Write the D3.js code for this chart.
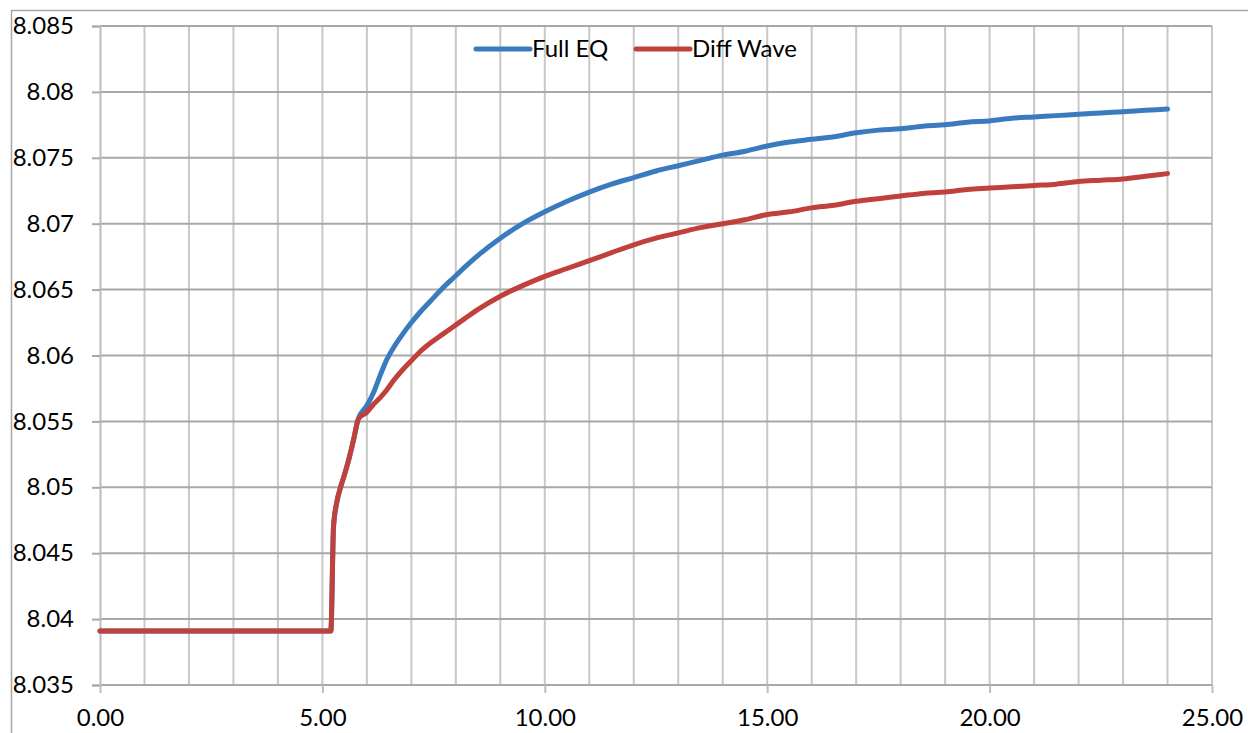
<!DOCTYPE html>
<html>
<head>
<meta charset="utf-8">
<script src="https://cdn.jsdelivr.net/npm/d3@7"></script>
<style>
  html, body { margin: 0; padding: 0; background: #fff; }
  svg { display: block; }
  text { font-family: Lato, "Noto Sans", sans-serif; fill: #000; }
</style>
</head>
<body>
<svg id="chart" width="1248" height="733"></svg>
<script>
// ---- data ----
const time = [0, 1, 2, 3, 4, 5, 5.19, 5.25, 5.32, 5.40, 5.50, 5.60, 5.70, 5.81,
  6.0, 6.15, 6.3, 6.45, 6.6, 6.8, 7.0, 7.2, 7.45, 7.7, 7.95, 8.2, 8.5, 9.0, 9.5,
  10, 10.5, 11, 11.5, 12, 12.5, 13, 13.5, 14, 14.5, 15, 15.5, 16, 16.5, 17, 17.5,
  18, 18.5, 19, 19.5, 20, 20.5, 21, 21.5, 22, 22.5, 23, 23.5, 24];
const fullEQ = [8.0391, 8.0391, 8.0391, 8.0391, 8.0391, 8.0391, 8.0391, 8.0470, 8.0488, 8.0499, 8.0510, 8.0522, 8.0536, 8.0552,
  8.0562, 8.0572, 8.0585, 8.0597, 8.0606, 8.0616, 8.0625, 8.0633, 8.0642, 8.0651, 8.0659, 8.0667, 8.0676, 8.0689, 8.0700,
  8.0709, 8.0717, 8.0724, 8.0730, 8.0735, 8.0740, 8.0744, 8.0748, 8.0752, 8.0755, 8.0759, 8.0762, 8.0764, 8.0766, 8.0769, 8.0771,
  8.0772, 8.0774, 8.0775, 8.0777, 8.0778, 8.0780, 8.0781, 8.0782, 8.0783, 8.0784, 8.0785, 8.0786, 8.0787];
const diffWave = [8.0391, 8.0391, 8.0391, 8.0391, 8.0391, 8.0391, 8.0391, 8.0470, 8.0488, 8.0499, 8.0510, 8.0522, 8.0536, 8.0552,
  8.0557, 8.0563, 8.0568, 8.0574, 8.0581, 8.0589, 8.0596, 8.0603, 8.0610, 8.0616, 8.0622, 8.0628, 8.0635, 8.0645, 8.0653,
  8.0660, 8.0666, 8.0672, 8.0678, 8.0684, 8.0689, 8.0693, 8.0697, 8.0700, 8.0703, 8.0707, 8.0709, 8.0712, 8.0714, 8.0717, 8.0719,
  8.0721, 8.0723, 8.0724, 8.0726, 8.0727, 8.0728, 8.0729, 8.0730, 8.0732, 8.0733, 8.0734, 8.0736, 8.0738];
const seriesNames = ["Full EQ", "Diff Wave"];
const seriesColors = ["#3a7bc0", "#c0403c"];
const xTicks = [0, 5, 10, 15, 20, 25];
const xMinor = d3.range(0, 26, 1);
const yTicks = [8.035, 8.04, 8.045, 8.05, 8.055, 8.06, 8.065, 8.07, 8.075, 8.08, 8.085];

// ---- layout ----
const svg = d3.select("#chart");
const L = 100, R = 1212, T = 26, B = 685;
const x = d3.scaleLinear().domain([0, 25]).range([L, R]);
const y = d3.scaleLinear().domain([8.035, 8.085]).range([B, T]);
const FS = 24;

// chart area border (cropped: only top and left visible)
svg.append("path").attr("d", `M11.5,733 L11.5,10.5 L1248,10.5`)
  .attr("fill", "none").attr("stroke", "#a6a6a6").attr("stroke-width", 1.5);

// vertical gridlines
svg.append("g").selectAll("line").data(xMinor.filter(d => d > 0)).join("line")
  .attr("x1", d => x(d)).attr("x2", d => x(d)).attr("y1", T).attr("y2", B)
  .attr("stroke", "#c8c8c8").attr("stroke-width", 2);

// horizontal gridlines
svg.append("g").selectAll("line").data(yTicks).join("line")
  .attr("x1", L).attr("x2", R).attr("y1", d => y(d)).attr("y2", d => y(d))
  .attr("stroke", "#a8a8a8").attr("stroke-width", 2);

// y axis
const yAxis = d3.axisLeft(y).tickValues(yTicks).tickSize(8).tickPadding(18)
  .tickFormat(d => String(+d.toFixed(3)));
const gy = svg.append("g").attr("transform", `translate(${L},0)`).call(yAxis);
gy.select(".domain").attr("stroke", "#bcbcbc").attr("stroke-width", 2);
gy.selectAll(".tick line").attr("stroke", "#a8a8a8").attr("stroke-width", 2);
gy.selectAll(".tick text").attr("font-size", FS).attr("font-family", "Lato, 'Noto Sans', sans-serif").attr("fill", "#000");

// x axis
const xAxis = d3.axisBottom(x).tickValues(xTicks).tickSize(8).tickPadding(16)
  .tickFormat(d3.format(".2f"));
const gx = svg.append("g").attr("transform", `translate(0,${B})`).call(xAxis);
gx.select(".domain").remove();
gx.selectAll(".tick line").attr("stroke", "#bcbcbc").attr("stroke-width", 2);
gx.selectAll(".tick text").attr("font-size", FS).attr("font-family", "Lato, 'Noto Sans', sans-serif").attr("fill", "#000");

// series
const data = [fullEQ, diffWave];
const line = d3.line().x((d, i) => x(time[i])).y(d => y(d)).curve(d3.curveMonotoneX);
svg.append("g").selectAll("path").data(data).join("path")
  .attr("d", d => line(d)).attr("fill", "none")
  .attr("stroke", (d, i) => seriesColors[i]).attr("stroke-width", 5)
  .attr("stroke-linecap", "round").attr("stroke-linejoin", "round");

// legend
const legendX = [476, 636];
const lg = svg.append("g");
seriesNames.forEach((name, i) => {
  lg.append("line").attr("x1", legendX[i]).attr("x2", legendX[i] + 54).attr("y1", 49).attr("y2", 49)
    .attr("stroke", seriesColors[i]).attr("stroke-width", 5).attr("stroke-linecap", "round");
  lg.append("text").attr("x", legendX[i] + 56).attr("y", 57).attr("font-size", FS).text(name);
});
</script>
</body>
</html>
